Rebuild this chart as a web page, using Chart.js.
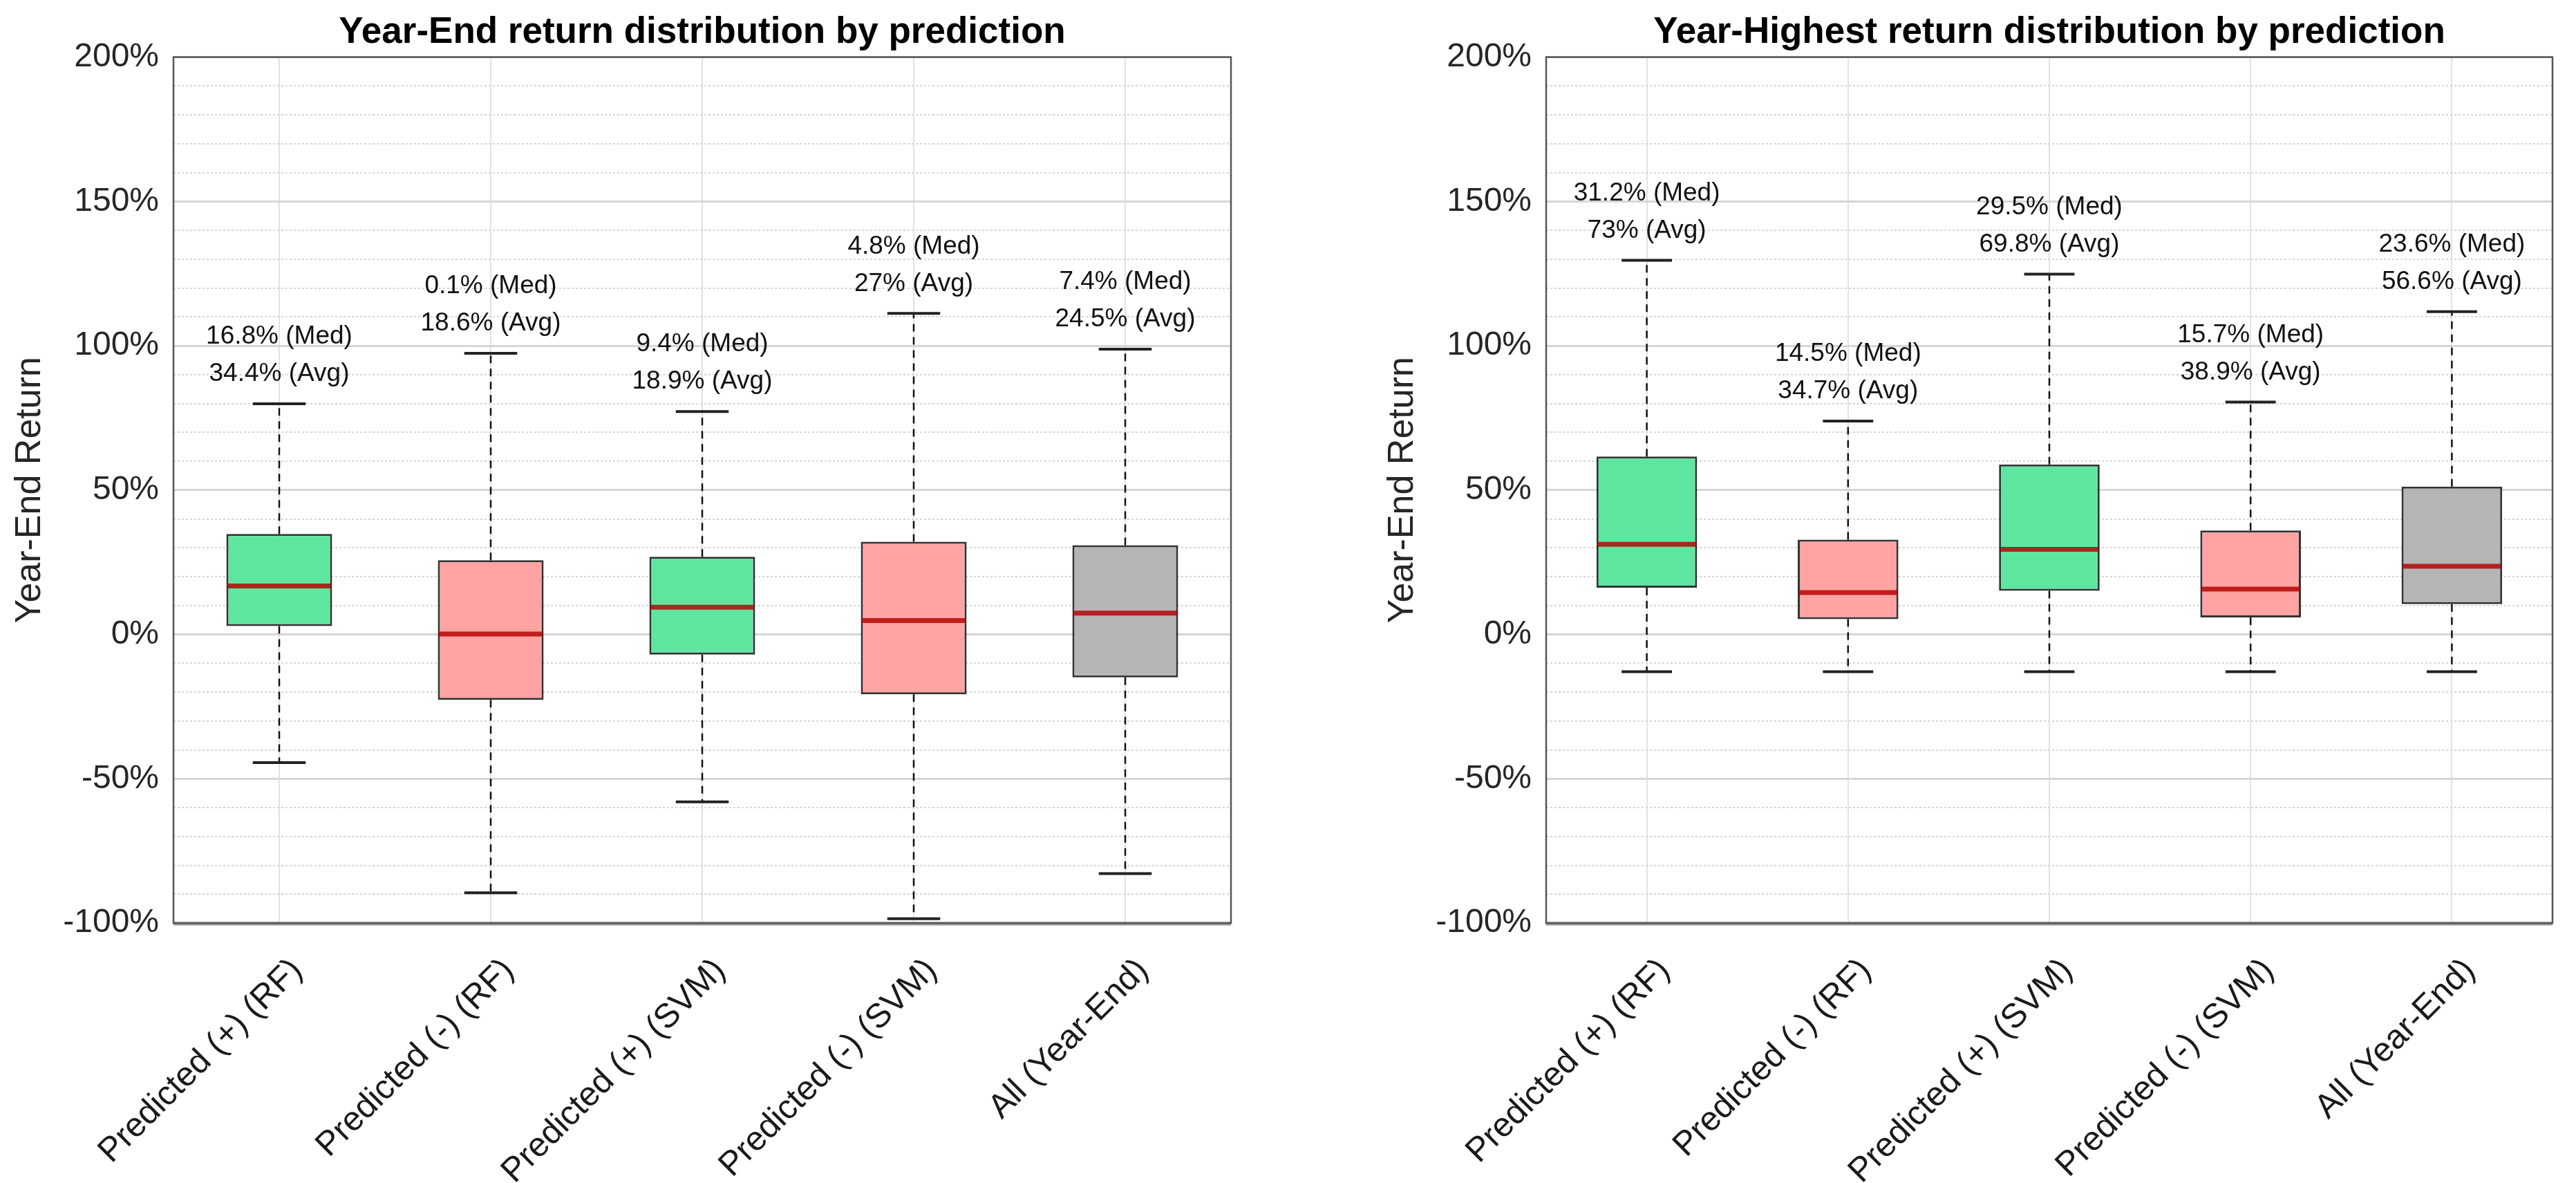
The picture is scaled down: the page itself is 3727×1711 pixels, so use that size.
<!DOCTYPE html>
<html>
<head>
<meta charset="utf-8">
<title>Return distribution by prediction</title>
<script src="https://cdn.jsdelivr.net/npm/chart.js@4.4.0/dist/chart.umd.min.js"></script>
<style>
body{margin:0;background:#fff;width:3727px;height:1711px;overflow:hidden;position:relative}
canvas{position:absolute;top:0}
#c_end{left:0}
#c_high{left:1986px}
</style>
</head>
<body>
<canvas id="c_end" width="1800" height="1711"></canvas>
<canvas id="c_high" width="1741" height="1711"></canvas>
<script>
var categories = ['Predicted (+) (RF)', 'Predicted (-) (RF)', 'Predicted (+) (SVM)', 'Predicted (-) (SVM)', 'All (Year-End)'];
var boxColors = ['#5ee6a1', '#ffa3a3', '#5ee6a1', '#ffa3a3', '#b5b5b5'];

// year-end returns (%)
var endMin = [-44.4, -89.5, -58.0, -98.5, -82.9];
var endQ1  = [2.9, -22.7, -7.0, -20.8, -14.9];
var endMed = [16.8, 0.1, 9.4, 4.8, 7.4];
var endQ3  = [34.8, 25.7, 26.9, 32.1, 30.9];
var endMax = [79.9, 97.4, 77.2, 111.2, 98.8];
var endAvg = [34.4, 18.6, 18.9, 27, 24.5];

// year-highest returns (%)
var highMin = [-12.9, -12.9, -12.9, -12.9, -12.9];
var highQ1  = [16.2, 5.3, 15.1, 5.9, 10.5];
var highMed = [31.2, 14.5, 29.5, 15.7, 23.6];
var highQ3  = [61.6, 32.8, 58.9, 36.0, 51.2];
var highMax = [129.6, 73.9, 124.8, 80.5, 111.8];
var highAvg = [73, 34.7, 69.8, 38.9, 56.6];

var yMin = -100, yMax = 200, yStep = 10, yLabelStep = 50;

var fontName = "'Liberation Sans', Arial, Helvetica, sans-serif";

function isMajor(c) {
    return c.tick && c.tick.value % yLabelStep === 0;
}

function boxChart(id, titleText, mins, q1, med, q3, maxs, avg, padRight)
{
    // whiskers, caps, medians, text and frame
    var boxPlugin = {
        id: 'boxextra',
        beforeDatasetsDraw: function(chart) {
            var ctx = chart.ctx;
            var ys = chart.scales.y;
            var meta = chart.getDatasetMeta(0);
            ctx.save();
            for (var i = 0; i < categories.length; i++) {
                var bar = meta.data[i];
                var x = bar.x, w = bar.width;
                ctx.strokeStyle = '#111';
                ctx.lineWidth = 2.5;
                ctx.setLineDash([11, 8]);
                ctx.beginPath();
                ctx.moveTo(x, ys.getPixelForValue(q3[i]));
                ctx.lineTo(x, ys.getPixelForValue(maxs[i]));
                ctx.moveTo(x, ys.getPixelForValue(q1[i]));
                ctx.lineTo(x, ys.getPixelForValue(mins[i]));
                ctx.stroke();
                ctx.setLineDash([]);
                ctx.lineWidth = 4;
                ctx.strokeStyle = '#222';
                ctx.beginPath();
                ctx.moveTo(x - w / 4, ys.getPixelForValue(maxs[i]));
                ctx.lineTo(x + w / 4, ys.getPixelForValue(maxs[i]));
                ctx.moveTo(x - w / 4, ys.getPixelForValue(mins[i]));
                ctx.lineTo(x + w / 4, ys.getPixelForValue(mins[i]));
                ctx.stroke();
            }
            ctx.restore();
        },
        afterDatasetsDraw: function(chart) {
            var ctx = chart.ctx;
            var ys = chart.scales.y;
            var meta = chart.getDatasetMeta(0);
            ctx.save();
            for (var i = 0; i < categories.length; i++) {
                var bar = meta.data[i];
                var x = bar.x, w = bar.width;
                var ym = ys.getPixelForValue(med[i]);
                ctx.strokeStyle = 'rgba(180,0,0,0.82)';
                ctx.lineWidth = 7;
                ctx.beginPath();
                ctx.moveTo(x - w / 2 + 1.5, ym);
                ctx.lineTo(x + w / 2 - 1.5, ym);
                ctx.stroke();
                // med / avg text above the top cap
                var yc = ys.getPixelForValue(maxs[i]);
                ctx.fillStyle = '#111';
                ctx.font = '37px ' + fontName;
                ctx.textAlign = 'center';
                ctx.textBaseline = 'middle';
                ctx.fillText(med[i] + '% (Med)', x, yc - 97);
                ctx.fillText(avg[i] + '% (Avg)', x, yc - 43);
            }
            ctx.restore();
        },
        afterDraw: function(chart) {
            var a = chart.chartArea;
            var ctx = chart.ctx;
            ctx.save();
            ctx.strokeStyle = '#9a9a9a';
            ctx.lineWidth = 5;
            ctx.beginPath();
            ctx.moveTo(a.left, a.bottom + 1);
            ctx.lineTo(a.right, a.bottom + 1);
            ctx.stroke();
            ctx.strokeStyle = '#555';
            ctx.lineWidth = 2.5;
            ctx.strokeRect(a.left, a.top, a.right - a.left, a.bottom - a.top);
            ctx.restore();
        }
    }; //end of plugin

    var data = {
        labels: categories,
        datasets: [{
            label: titleText,
            data: categories.map(function(c, i) { return [q1[i], q3[i]]; }),
            backgroundColor: boxColors,
            borderColor: 'rgba(0,0,0,0.8)',
            borderWidth: 3,
            borderSkipped: false,
            barPercentage: 0.5,
            categoryPercentage: 1
        }]
    };

    var config = {
        type: 'bar',
        data: data,
        plugins: [boxPlugin],
        options: {
            responsive: false,
            animation: false,
            devicePixelRatio: 1,
            layout: { padding: { left: 0, right: padRight, top: 0, bottom: 0 } },
            plugins: {
                legend: { display: false },
                tooltip: { enabled: false },
                title: {
                    display: true,
                    text: titleText,
                    fullSize: false,
                    color: '#000',
                    font: { family: fontName, size: 53, weight: 'bold', lineHeight: 1.2 },
                    padding: { top: 16, bottom: 3 }
                }
            },
            scales: {
                x: {
                    afterFit: function(s) { s.height = 376; },
                    grid: { offset: false, color: '#e2e2e2', lineWidth: 2, drawTicks: false },
                    border: { display: false },
                    ticks: {
                        minRotation: 45,
                        maxRotation: 45,
                        autoSkip: false,
                        padding: 40,
                        labelOffset: 26,
                        color: '#1a1a1a',
                        font: { family: fontName, size: 49 }
                    }
                },
                y: {
                    min: yMin,
                    max: yMax,
                    afterFit: function(s) { s.width = 251; },
                    grid: {
                        drawTicks: false,
                        color: function(c) { return isMajor(c) ? '#d6d6d6' : '#d6d6d6'; },
                        lineWidth: function(c) { return isMajor(c) ? 3 : 2; }
                    },
                    border: {
                        display: false,
                        dash: function(c) { return isMajor(c) ? [] : [3, 3]; }
                    },
                    ticks: {
                        stepSize: yStep,
                        autoSkip: false,
                        padding: 21,
                        color: '#262626',
                        font: { family: fontName, size: 48 },
                        callback: function(v) { return v % yLabelStep === 0 ? v + '%' : ''; }
                    },
                    title: {
                        display: true,
                        text: 'Year-End Return',
                        color: '#262626',
                        font: { family: fontName, size: 52, lineHeight: 1.2 },
                        padding: { top: 12, bottom: 0 }
                    }
                }
            }
        }
    };
    var ctx = document.getElementById(id).getContext('2d');
    return new Chart(ctx, config);
}//end of function boxChart

var endChart = boxChart('c_end', 'Year-End return distribution by prediction', endMin, endQ1, endMed, endQ3, endMax, endAvg, 19);
var highChart = boxChart('c_high', 'Year-Highest return distribution by prediction', highMin, highQ1, highMed, highQ3, highMax, highAvg, 34);
</script>
</body>
</html>
